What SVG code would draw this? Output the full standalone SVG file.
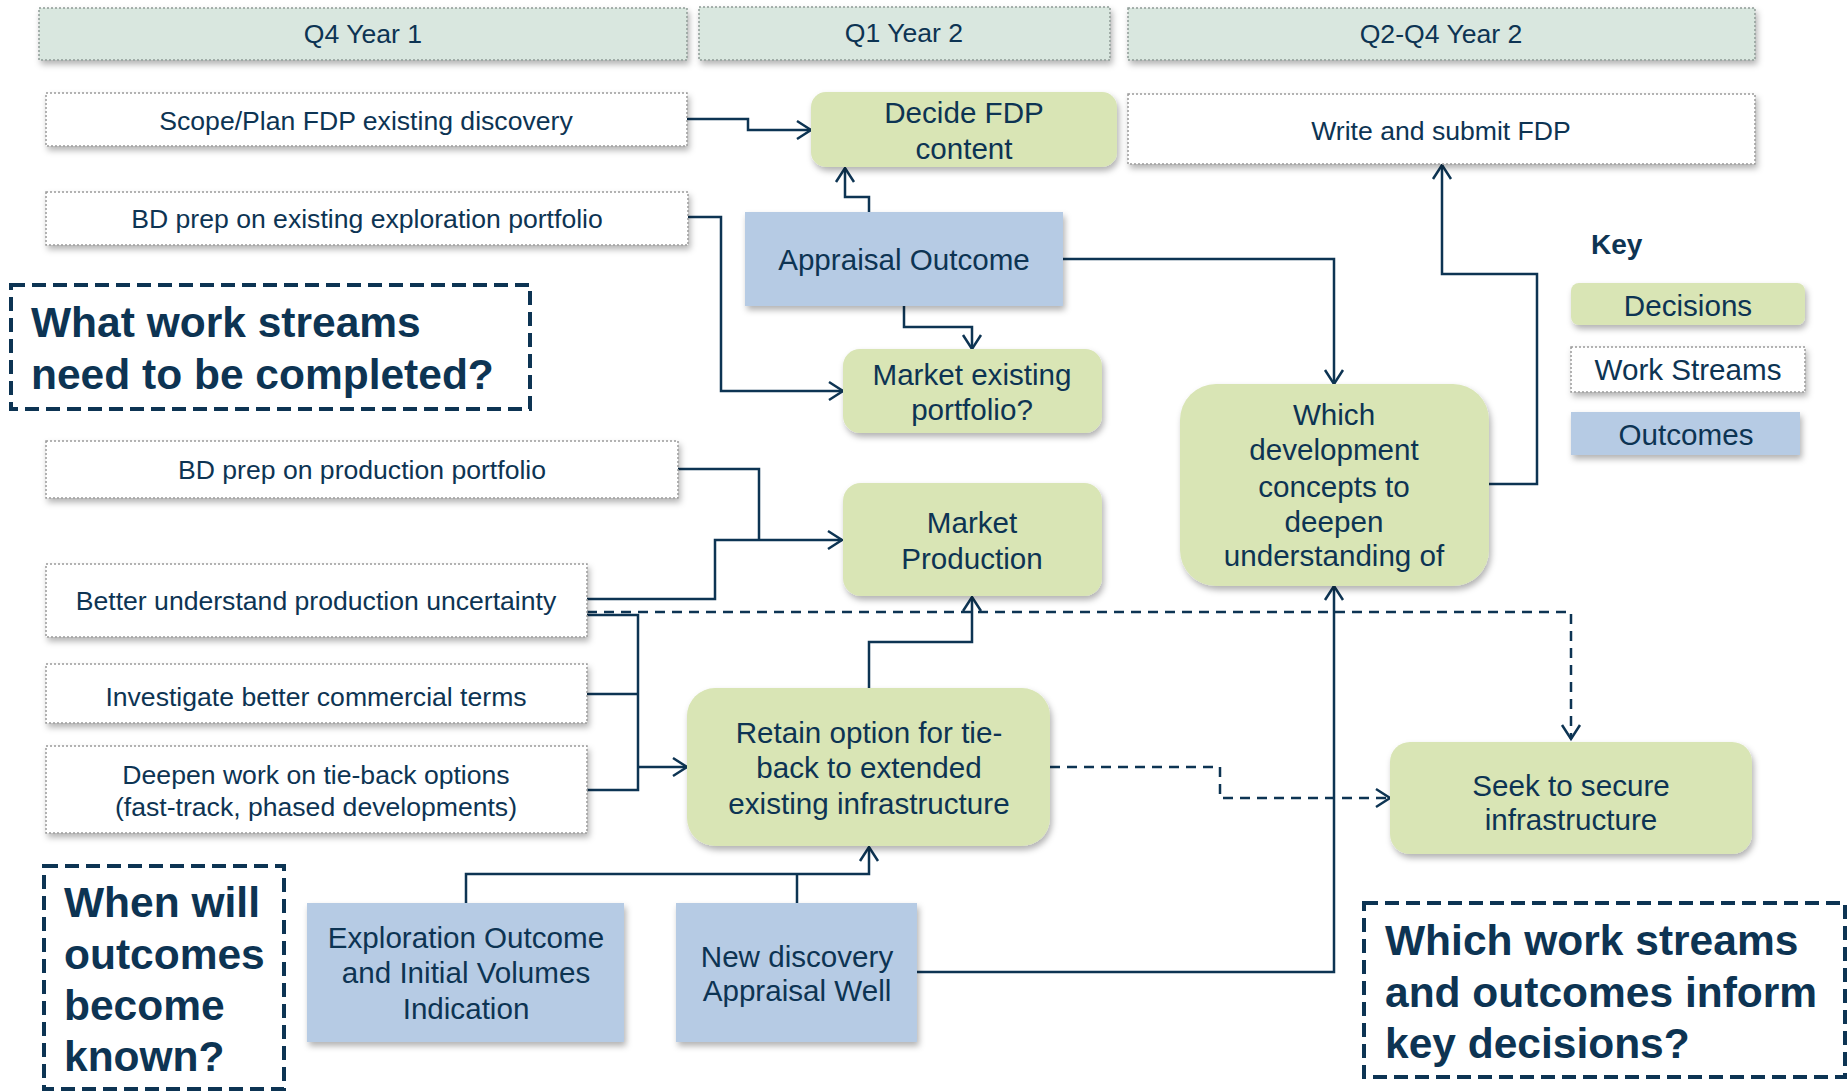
<svg xmlns="http://www.w3.org/2000/svg" width="1848" height="1091" viewBox="0 0 1848 1091">
<defs>
<style>
.hdr{fill:#d9e7df;stroke:#8e9c97;stroke-width:1.5;stroke-dasharray:2 2;filter:url(#sh)}
.ws{fill:#fff;stroke:#9a9a9a;stroke-width:1.5;stroke-dasharray:2 2;filter:url(#sh)}
.dec{fill:#d9e5b5;filter:url(#sh)}
.out{fill:#b6cbe4;filter:url(#sh)}
.t{font-family:"Liberation Sans",Arial,sans-serif;fill:#0d3453;text-anchor:middle}
.s26{font-size:26.6px}
.s29{font-size:29.6px}
.key{font-family:"Liberation Sans",Arial,sans-serif;fill:#0d3453;font-size:28px;font-weight:bold}
.q{font-family:"Liberation Sans",Arial,sans-serif;font-weight:bold;font-size:42.5px;fill:#0d3453}
.qbox{fill:none;stroke:#0d3453;stroke-width:4;stroke-dasharray:14 7}
.c{fill:none;stroke:#0d3453;stroke-width:2.5}
.a{marker-end:url(#arr)}
.d{stroke-dasharray:10 7}
</style>
<filter id="sh" x="-5%" y="-10%" width="115%" height="140%">
<feDropShadow dx="2" dy="4" stdDeviation="3" flood-color="#000" flood-opacity="0.3"/>
</filter>
<marker id="arr" viewBox="0 0 24 24" refX="21" refY="12" markerWidth="24" markerHeight="24" markerUnits="userSpaceOnUse" orient="auto">
<path d="M7,3 L21,12 L7,21" fill="none" stroke="#0d3453" stroke-width="2.5"/>
</marker>
</defs>

<g id="headers">
<g id="h-q4y1"><rect class="hdr" x="39" y="8" width="648" height="52"/><text class="t s26" x="363" y="43">Q4 Year 1</text></g>
<g id="h-q1y2"><rect class="hdr" x="699" y="7" width="411" height="53"/><text class="t s26" x="904" y="42">Q1 Year 2</text></g>
<g id="h-q2q4y2"><rect class="hdr" x="1128" y="8" width="627" height="52"/><text class="t s26" x="1441" y="43">Q2-Q4 Year 2</text></g>
</g>

<g id="connectors">
<path class="c a" d="M687,119 H748 V130 H811"/>
<path class="c a" d="M869,212 V197 H845 V168"/>
<path class="c a" d="M904,306 V327 H972 V349"/>
<path class="c a" d="M688,217 H721 V391 H843"/>
<path class="c a" d="M1063,259 H1334 V384"/>
<path class="c a" d="M1489,484 H1537 V274 H1442 V165"/>
<path class="c" d="M678,469 H759 V540"/>
<path class="c a" d="M587,599 H715 V540 H842"/>
<path class="c" d="M587,615 H638 V790 H587 M587,694 H638"/>
<path class="c a" d="M638,767 H687"/>
<path class="c d a" d="M587,612 H1571 V739"/>
<path class="c a" d="M869,688 V642 H972 V597"/>
<path class="c d a" d="M1050,767 H1220 V798 H1390"/>
<path class="c a" d="M466,903 V874 H869 V847"/>
<path class="c" d="M797,903 V874"/>
<path class="c a" d="M917,972 H1334 V586"/>
</g>

<g id="ws-scope"><rect class="ws" x="46" y="93" width="641" height="53"/><text class="t s26" x="366" y="130">Scope/Plan FDP existing discovery</text></g>
<g id="ws-bd-expl"><rect class="ws" x="46" y="192" width="642" height="53"/><text class="t s26" x="367" y="228">BD prep on existing exploration portfolio</text></g>
<g id="ws-bd-prod"><rect class="ws" x="46" y="441" width="632" height="57"/><text class="t s26" x="362" y="479">BD prep on production portfolio</text></g>
<g id="ws-better"><rect class="ws" x="46" y="564" width="541" height="73"/><text class="t s26" x="316" y="610">Better understand production uncertainty</text></g>
<g id="ws-invest"><rect class="ws" x="46" y="664" width="541" height="59"/><text class="t s26" x="316" y="706">Investigate better commercial terms</text></g>
<g id="ws-deepen"><rect class="ws" x="46" y="746" width="541" height="87"/><text class="t s26" x="316" y="784">Deepen work on tie-back options</text><text class="t s26" x="316" y="816">(fast-track, phased developments)</text></g>
<g id="ws-write"><rect class="ws" x="1128" y="94" width="627" height="70"/><text class="t s26" x="1441" y="140">Write and submit FDP</text></g>

<g id="dec-decide"><rect class="dec" x="811" y="92" width="306" height="75" rx="15"/><text class="t s29" x="964" y="123">Decide FDP</text><text class="t s29" x="964" y="159">content</text></g>
<g id="dec-mkt-exist"><rect class="dec" x="843" y="349" width="259" height="84" rx="17"/><text class="t s29" x="972" y="385">Market existing</text><text class="t s29" x="972" y="420">portfolio?</text></g>
<g id="dec-mkt-prod"><rect class="dec" x="843" y="483" width="259" height="113" rx="18"/><text class="t s29" x="972" y="533">Market</text><text class="t s29" x="972" y="569">Production</text></g>
<g id="dec-which"><rect class="dec" x="1180" y="384" width="309" height="202" rx="36"/><text class="t s29" x="1334" y="425">Which</text><text class="t s29" x="1334" y="460">development</text><text class="t s29" x="1334" y="497">concepts to</text><text class="t s29" x="1334" y="532">deepen</text><text class="t s29" x="1334" y="566">understanding of</text></g>
<g id="dec-retain"><rect class="dec" x="687" y="688" width="363" height="158" rx="28"/><text class="t s29" x="869" y="743">Retain option for tie-</text><text class="t s29" x="869" y="778">back to extended</text><text class="t s29" x="869" y="814">existing infrastructure</text></g>
<g id="dec-seek"><rect class="dec" x="1390" y="742" width="362" height="112" rx="20"/><text class="t s29" x="1571" y="796">Seek to secure</text><text class="t s29" x="1571" y="830">infrastructure</text></g>

<g id="out-appraisal"><rect class="out" x="745" y="212" width="318" height="94"/><text class="t s29" x="904" y="270">Appraisal Outcome</text></g>
<g id="out-exploration"><rect class="out" x="307" y="903" width="317" height="139"/><text class="t s29" x="466" y="948">Exploration Outcome</text><text class="t s29" x="466" y="983">and Initial Volumes</text><text class="t s29" x="466" y="1019">Indication</text></g>
<g id="out-newdisc"><rect class="out" x="676" y="903" width="241" height="139"/><text class="t s29" x="797" y="967">New discovery</text><text class="t s29" x="797" y="1001">Appraisal Well</text></g>

<g id="key">
<text class="key" x="1591" y="254">Key</text>
<g id="key-dec"><rect class="dec" x="1571" y="283" width="234" height="42" rx="8"/><text class="t s29" x="1688" y="316">Decisions</text></g>
<g id="key-ws"><rect class="ws" x="1571" y="347" width="234" height="45"/><text class="t s29" x="1688" y="380">Work Streams</text></g>
<g id="key-out"><rect class="out" x="1571" y="412" width="229" height="43"/><text class="t s29" x="1686" y="445">Outcomes</text></g>
</g>

<g id="q-workstreams"><rect class="qbox" x="11" y="285" width="519" height="124"/><text class="q" x="31" y="337">What work streams</text><text class="q" x="31" y="389">need to be completed?</text></g>
<g id="q-when"><rect class="qbox" x="44" y="866" width="240" height="223"/><text class="q" x="64" y="917">When will</text><text class="q" x="64" y="969">outcomes</text><text class="q" x="64" y="1020">become</text><text class="q" x="64" y="1071">known?</text></g>
<g id="q-which"><rect class="qbox" x="1364" y="903" width="481" height="174"/><text class="q" x="1385" y="955">Which work streams</text><text class="q" x="1385" y="1007">and outcomes inform</text><text class="q" x="1385" y="1058">key decisions?</text></g>
</svg>
